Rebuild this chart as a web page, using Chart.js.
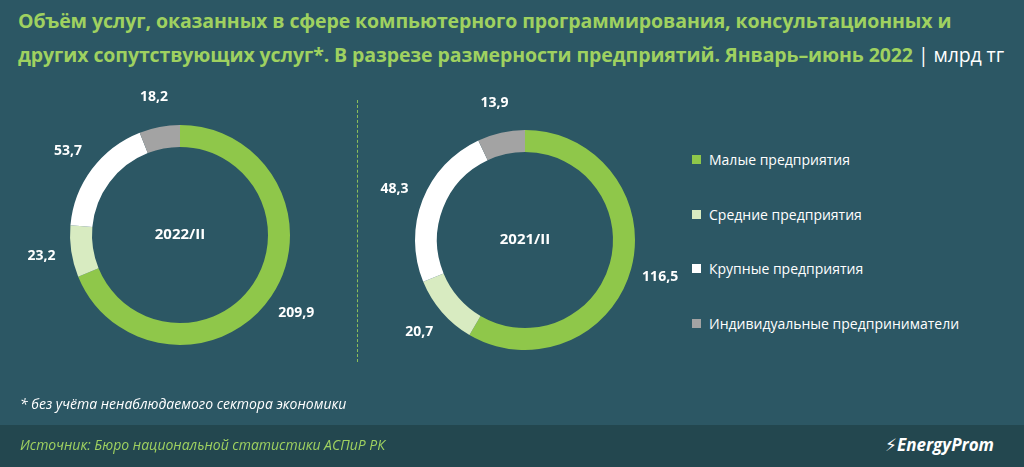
<!DOCTYPE html>
<html><head><meta charset="utf-8">
<script src="https://cdn.jsdelivr.net/npm/chart.js@4"></script>
<style>
body{margin:0;width:1024px;height:467px;background:#2c5764;font-family:"Open Sans","DejaVu Sans",sans-serif;position:relative;overflow:hidden}
#title{position:absolute;left:18px;top:4px;width:1010px;color:#9fd160;font-weight:bold;font-size:19.5px;line-height:34px;letter-spacing:-0.1px;white-space:nowrap}
#title span{color:#fff;font-weight:normal}
.c{position:absolute;width:320px;height:320px}
#dash{position:absolute;left:357px;top:100px;height:262px;border-left:1.5px dashed #8cbf5a}
#legend{position:absolute;left:692px;top:150px;color:#fff;font-size:14px}
#legend div{height:54.5px;display:flex;align-items:flex-start}
#legend i{display:inline-block;width:9px;height:9px;margin:5px 8px 0 0}
#note{position:absolute;left:20px;top:394px;color:#fff;font-style:italic;font-size:14px}
#foot{position:absolute;left:0;top:425px;width:1024px;height:42px;background:#23474f}
#src{position:absolute;left:20px;top:10px;color:#9fd160;font-style:italic;font-size:14px}
#logo{position:absolute;right:30px;top:8px;color:#fff;font-style:italic;font-weight:bold;font-size:17px}
</style></head><body>
<div id="title">Объём услуг, оказанных в сфере компьютерного программирования, консультационных и<br>других сопутствующих услуг*. В разрезе размерности предприятий. Январь–июнь 2022 <span>| млрд тг</span></div>
<canvas id="c1" class="c" style="left:20px;top:75px"></canvas>
<canvas id="c2" class="c" style="left:365px;top:80px"></canvas>
<div id="dash"></div>
<div id="legend"></div>
<div id="note">* без учёта ненаблюдаемого сектора экономики</div>
<div id="foot"><div id="src">Источник: Бюро национальной статистики АСПиР РК</div><div id="logo">⚡EnergyProm</div></div>
<script>
const categories=["Малые предприятия","Средние предприятия","Крупные предприятия","Индивидуальные предприниматели"];
const values2022=[209.9,23.2,53.7,18.2];
const values2021=[116.5,20.7,48.3,13.9];
const colors=["#8fc74a","#d8ebc1","#ffffff","#a3a3a3"];
const lg=document.getElementById('legend');
categories.forEach((c,i)=>{lg.innerHTML+=`<div><i style="background:${colors[i]}"></i>${c}</div>`;});
const labelsPlugin={id:'lbl',afterDatasetsDraw(ch,a,opts){
 const ctx=ch.ctx;const meta=ch.getDatasetMeta(0);
 ctx.save();ctx.fillStyle='#fff';ctx.font='bold 14px "Open Sans"';ctx.textAlign='center';ctx.textBaseline='middle';
 meta.data.forEach((arc,i)=>{const m=(arc.startAngle+arc.endAngle)/2;const r=arc.outerRadius+30;
  ctx.fillText(ch.data.datasets[0].data[i].toFixed(1).replace('.',','),arc.x+Math.cos(m)*r,arc.y+Math.sin(m)*r);});
 ctx.font='bold 15px "Open Sans"';ctx.fillText(opts.text,meta.data[0].x,meta.data[0].y);
 ctx.restore();}};
function mk(id,vals,t){new Chart(document.getElementById(id),{type:'doughnut',
 data:{labels:categories,datasets:[{data:vals,backgroundColor:colors,borderWidth:0}]},
 options:{responsive:false,animation:false,radius:110,cutout:'80%',
  plugins:{legend:{display:false},tooltip:{enabled:false},lbl:{text:t}}},plugins:[labelsPlugin]});}
mk('c1',values2022,'2022/II');mk('c2',values2021,'2021/II');
</script></body></html>
